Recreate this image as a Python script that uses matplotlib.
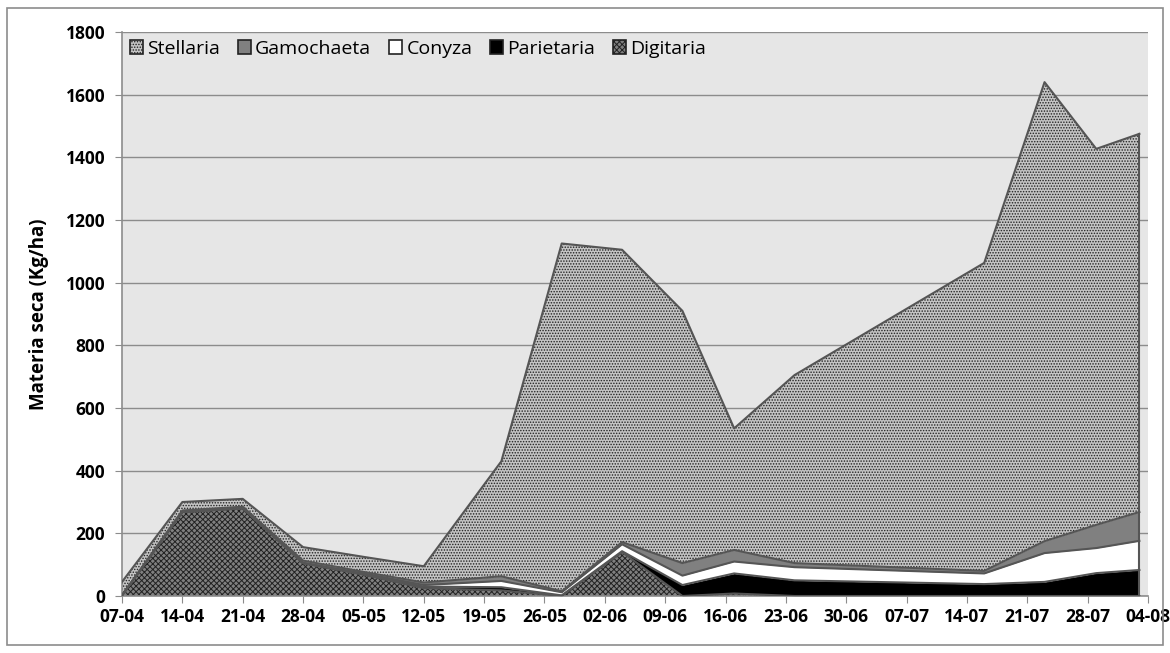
import datetime as dt
import matplotlib
matplotlib.use("Agg")
import matplotlib.pyplot as plt
from matplotlib.patches import Rectangle, Patch

plt.rcParams['font.family'] = ['Open Sans', 'DejaVu Sans']
plt.rcParams['hatch.linewidth'] = 0.7

year = 2013
dates = ["07-04", "14-04", "21-04", "28-04", "05-05", "12-05", "21-05", "28-05",
         "04-06", "11-06", "17-06", "24-06", "16-07", "23-07", "29-07", "03-08"]
digitaria = [2, 268, 280, 105, 68, 25, 18, 0, 140, 0, 8, 0, 0, 0, 0, 0]
parietaria = [0, 0, 0, 0, 2, 5, 10, 2, 3, 35, 64, 50, 38, 45, 73, 83]
conyza = [0, 0, 0, 0, 2, 5, 20, 10, 22, 30, 38, 42, 34, 92, 80, 93]
gamochaeta = [0, 5, 5, 8, 5, 8, 15, 3, 7, 40, 37, 13, 8, 38, 74, 92]
stellaria = [43, 27, 25, 43, 48, 52, 367, 1110, 933, 805, 388, 600, 983, 1465, 1200, 1207]

tick_labels = ["07-04", "14-04", "21-04", "28-04", "05-05", "12-05", "19-05", "26-05",
               "02-06", "09-06", "16-06", "23-06", "30-06", "07-07", "14-07", "21-07",
               "28-07", "04-08"]

def to_date(s):
    d, m = s.split("-")
    return dt.date(year, int(m), int(d))

x = [to_date(s) for s in dates]
xt = [to_date(s) for s in tick_labels]

fig = plt.figure(figsize=(11.7, 6.53), dpi=100)
ax = fig.add_axes([122 / 1170, 1 - 596 / 653, (1148 - 122) / 1170, (596 - 32) / 653])

# outer chart border
fig.patches.append(Rectangle((7 / 1170, 8 / 653), 1156 / 1170, 637 / 653,
                             transform=fig.transFigure, fill=False,
                             edgecolor="#8c8c8c", linewidth=1.2))

ax.set_facecolor("#e6e6e6")

layers = [
    ("Digitaria", digitaria, dict(facecolor="#808080", hatch="xxxxxx")),
    ("Parietaria", parietaria, dict(facecolor="black", hatch=None)),
    ("Conyza", conyza, dict(facecolor="white", hatch=None)),
    ("Gamochaeta", gamochaeta, dict(facecolor="#808080", hatch=None)),
    ("Stellaria", stellaria, dict(facecolor="#c4c4c4", hatch="......")),
]

base = [0] * len(x)
handles = {}
for name, vals, st in layers:
    top = [b + v for b, v in zip(base, vals)]
    ax.fill_between(x, base, top, facecolor=st["facecolor"], hatch=st["hatch"],
                    edgecolor="#222222", linewidth=0, zorder=2)
    ax.plot(x, top, color="#555555", linewidth=1.5, zorder=3)
    handles[name] = Patch(facecolor=st["facecolor"], hatch=st["hatch"],
                          edgecolor="#222222", linewidth=1.2)
    base = top
ax.plot([x[-1], x[-1]], [0, base[-1]], color="#555555", linewidth=1.5, zorder=3)

ax.set_ylim(0, 1800)
ax.set_yticks(range(0, 1801, 200))
ax.set_xlim(xt[0], xt[-1])
ax.set_xticks(xt)
ax.set_xticklabels(tick_labels)
ax.grid(axis="y", color="#8c8c8c", linewidth=1.0, zorder=1)
ax.set_axisbelow(True)

for s in ["top", "right"]:
    ax.spines[s].set_visible(False)
for s in ["left", "bottom"]:
    ax.spines[s].set_color("#8c8c8c")
    ax.spines[s].set_linewidth(1.2)
ax.tick_params(axis="both", direction="out", length=5, color="#8c8c8c",
               labelsize=12.5)
ax.tick_params(axis="y", pad=7)
for lab in ax.get_xticklabels() + ax.get_yticklabels():
    lab.set_fontweight("bold")

ax.set_ylabel("Materia seca (Kg/ha)", fontsize=13.5, fontweight="bold", labelpad=12)

order = ["Stellaria", "Gamochaeta", "Conyza", "Parietaria", "Digitaria"]
ax.legend([handles[n] for n in order], order, loc="upper left", ncol=5,
          frameon=False, fontsize=14, handlelength=0.7, handleheight=0.7,
          handletextpad=0.2, columnspacing=0.9, borderaxespad=0.0,
          bbox_to_anchor=(0.0, 1.0))

fig.savefig("out.png", dpi=100)
